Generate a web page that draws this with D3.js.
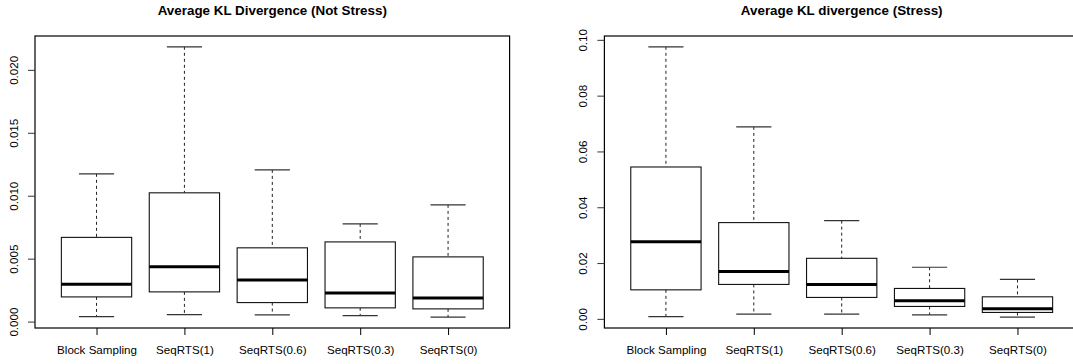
<!DOCTYPE html>
<html>
<head>
<meta charset="utf-8">
<script src="https://cdn.jsdelivr.net/npm/d3@7"></script>
<style>
  html, body { margin: 0; padding: 0; background: #fff; }
  svg { display: block; font-family: "Liberation Sans", Arial, Helvetica, sans-serif; }
</style>
</head>
<body>
<svg id="chart" width="1073" height="364"></svg>
<script>
// Methods compared in both panels
const categories = ["Block Sampling", "SeqRTS(1)", "SeqRTS(0.6)", "SeqRTS(0.3)", "SeqRTS(0)"];

// Five-number summaries per method: lower whisker, Q1, median, Q3, upper whisker
// Panel 1: not stressed
const notStressLow    = [0.00040, 0.00056, 0.00053, 0.00048, 0.00035];
const notStressQ1     = [0.00196, 0.00236, 0.00151, 0.00109, 0.00101];
const notStressMedian = [0.00296, 0.00435, 0.00331, 0.00228, 0.00188];
const notStressQ3     = [0.00669, 0.01023, 0.00586, 0.00633, 0.00514];
const notStressHigh   = [0.01174, 0.02183, 0.01205, 0.00776, 0.00927];

// Panel 2: stressed
const stressLow    = [0.00080, 0.00170, 0.00170, 0.00144, 0.00060];
const stressQ1     = [0.01040, 0.01234, 0.00768, 0.00445, 0.00230];
const stressMedian = [0.02760, 0.01700, 0.01234, 0.00646, 0.00359];
const stressQ3     = [0.05443, 0.03450, 0.02170, 0.01090, 0.00790];
const stressHigh   = [0.09750, 0.06880, 0.03520, 0.01850, 0.01414];

// Axis ticks
const notStressTicks = [0, 0.005, 0.010, 0.015, 0.020];
const stressTicks    = [0, 0.02, 0.04, 0.06, 0.08, 0.10];

const svg = d3.select("#chart");
svg.append("rect").attr("width", 1073).attr("height", 364).attr("fill", "#fff");

function panel(opts) {
  const { left, right, top, bottom, title, low, q1, med, q3, high, ticks, fmt } = opts;
  const g = svg.append("g");

  const x = d3.scalePoint().domain(categories).range([left, right]).padding(0.7);
  const boxW = x.step() * 0.8;

  // y range padded by 4% of the data span on each side
  const lo = d3.min(low), hi = d3.max(high);
  const ext = (hi - lo) * 0.04;
  const y = d3.scaleLinear().domain([lo - ext, hi + ext]).range([bottom, top]);

  const rows = categories.map((c, i) => ({ c, low: low[i], q1: q1[i], med: med[i], q3: q3[i], high: high[i] }));

  const b = g.selectAll("g.box").data(rows).join("g").attr("class", "box");

  // dashed whiskers
  b.append("line")
    .attr("x1", d => x(d.c)).attr("x2", d => x(d.c))
    .attr("y1", d => y(d.high)).attr("y2", d => y(d.q3))
    .attr("stroke", "#222").attr("stroke-dasharray", "3,3");
  b.append("line")
    .attr("x1", d => x(d.c)).attr("x2", d => x(d.c))
    .attr("y1", d => y(d.q1)).attr("y2", d => y(d.low))
    .attr("stroke", "#222").attr("stroke-dasharray", "3,3");

  // whisker caps
  [d => d.high, d => d.low].forEach(acc => {
    b.append("line")
      .attr("x1", d => x(d.c) - boxW / 4).attr("x2", d => x(d.c) + boxW / 4)
      .attr("y1", d => y(acc(d))).attr("y2", d => y(acc(d)))
      .attr("stroke", "#333").attr("stroke-width", 1.2);
  });

  // interquartile box
  b.append("rect")
    .attr("x", d => x(d.c) - boxW / 2)
    .attr("width", boxW)
    .attr("y", d => y(d.q3))
    .attr("height", d => y(d.q1) - y(d.q3))
    .attr("fill", "#fff").attr("stroke", "#111").attr("stroke-width", 1.1);

  // median
  b.append("line")
    .attr("x1", d => x(d.c) - boxW / 2).attr("x2", d => x(d.c) + boxW / 2)
    .attr("y1", d => y(d.med)).attr("y2", d => y(d.med))
    .attr("stroke", "#000").attr("stroke-width", 3);

  // plot frame
  g.append("rect")
    .attr("x", left).attr("y", top)
    .attr("width", right - left).attr("height", bottom - top)
    .attr("fill", "none").attr("stroke", "#000").attr("stroke-width", 1.2);

  // x axis
  const xAxis = g.append("g").attr("transform", `translate(0,${bottom})`)
    .call(d3.axisBottom(x).tickSize(7).tickPadding(11));
  xAxis.select(".domain").remove();
  xAxis.selectAll("text").attr("font-size", 11.6).attr("fill", "#000")
    .attr("font-family", "Liberation Sans, Arial, sans-serif");
  xAxis.selectAll("line").attr("stroke", "#000");

  // y axis with labels turned to read upward
  const yAxis = g.append("g").attr("transform", `translate(${left},0)`)
    .call(d3.axisLeft(y).tickValues(ticks).tickFormat(fmt).tickSize(7));
  yAxis.select(".domain").remove();
  yAxis.selectAll("line").attr("stroke", "#333");
  yAxis.selectAll("text")
    .attr("font-size", 11.6).attr("fill", "#000")
    .attr("font-family", "Liberation Sans, Arial, sans-serif")
    .attr("text-anchor", "middle")
    .attr("x", null).attr("dy", "0")
    .attr("transform", "translate(-17,0) rotate(-90)");

  // title
  g.append("text")
    .attr("x", (left + right) / 2).attr("y", 15)
    .attr("text-anchor", "middle")
    .attr("font-size", 13.4).attr("font-weight", "bold").attr("fill", "#000")
    .text(title);
}

panel({
  left: 35, right: 509.6, top: 36, bottom: 328,
  title: "Average KL Divergence (Not Stress)",
  low: notStressLow, q1: notStressQ1, med: notStressMedian, q3: notStressQ3, high: notStressHigh,
  ticks: notStressTicks, fmt: d3.format(".3f")
});

panel({
  left: 604.4, right: 1079, top: 36, bottom: 328,
  title: "Average KL divergence (Stress)",
  low: stressLow, q1: stressQ1, med: stressMedian, q3: stressQ3, high: stressHigh,
  ticks: stressTicks, fmt: d3.format(".2f")
});
</script>
</body>
</html>
